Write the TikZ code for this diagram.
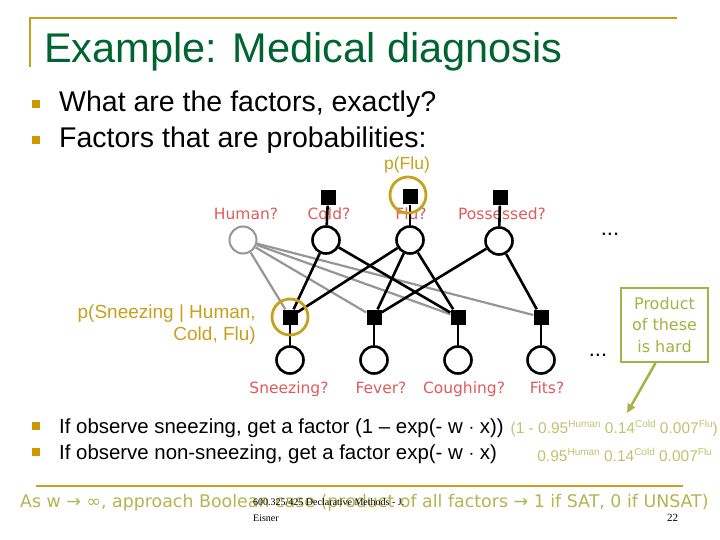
\documentclass[tikz,border=0pt]{standalone}
\usepackage{fontspec}
\setmainfont{Liberation Sans}
\newfontfamily\comic{DejaVu Sans}
\newfontfamily\serifft{Liberation Serif}
\usetikzlibrary{backgrounds,arrows.meta}
\definecolor{gold}{RGB}{200,160,30}
\definecolor{bulletgold}{RGB}{204,153,0}
\definecolor{titlegreen}{RGB}{0,100,50}
\definecolor{labred}{RGB}{224,90,90}
\definecolor{olive}{RGB}{165,178,70}
\definecolor{aswol}{RGB}{180,180,80}
\definecolor{lightol}{RGB}{190,196,110}
\definecolor{greyedge}{RGB}{150,150,150}
\tikzset{
  var/.style={circle,draw=black,line width=2.6pt,fill=white,minimum size=27pt,inner sep=0pt},
  hvar/.style={circle,draw=greyedge,line width=2pt,fill=white,minimum size=27pt,inner sep=0pt},
  fac/.style={rectangle,fill=black,minimum size=15pt,inner sep=0pt},
  edge/.style={line width=2.6pt,black},
  gedge/.style={line width=2.2pt,greyedge},
  hl/.style={circle,draw=gold,line width=2.8pt,minimum size=36pt,inner sep=0pt},
  lab/.style={text=labred,font=\comic\fontsize{15.5}{17}\selectfont,inner sep=0pt,anchor=base},
  bsq/.style={rectangle,fill=bulletgold,minimum size=8pt,inner sep=0pt},
  big/.style={font=\fontsize{28.5}{32}\selectfont,inner sep=0pt,anchor=base west},
  mid/.style={font=\fontsize{20.4}{24}\selectfont,inner sep=0pt,anchor=base west}
}
\newcommand{\spr}[1]{\raisebox{5.5pt}{\fontsize{10}{10}\selectfont #1}}
\begin{document}
\begin{tikzpicture}[x=1pt,y=-1pt]
\useasboundingbox (0,0) rectangle (720,540);
% frame
\draw[gold,line width=2.5pt] (30,67) -- (30,18) -- (677,18);
\node[text=titlegreen,font=\fontsize{41.5}{46}\selectfont,inner sep=0pt,anchor=base west] (title) at (44,63) {Example: Medical diagnosis};
% bullets
\node[bsq] (b1) at (36,104) {};
\node[big] (t1) at (59,112) {What are the factors, exactly?};
\node[bsq] (b2) at (36,140) {};
\node[big] (t2) at (59,148) {Factors that are probabilities:};
\node[text=gold,font=\fontsize{17.5}{19}\selectfont,inner sep=0pt,anchor=base] (pflu) at (407,170) {p(Flu)};
% graph nodes
\node[hvar] (H) at (243,240) {};
\node[var] (C) at (326,240) {};
\node[var] (F) at (410,240) {};
\node[var] (P) at (499,241) {};
\node[fac] (fC) at (328,198) {};
\node[fac] (fF) at (410,197) {};
\node[fac] (fP) at (500,198) {};
\node[fac] (g1) at (290,317) {};
\node[fac] (g2) at (374,317) {};
\node[fac] (g3) at (458,317) {};
\node[fac] (g4) at (541,317) {};
\node[var] (S) at (290,360) {};
\node[var] (V) at (374,360) {};
\node[var] (K) at (458,360) {};
\node[var] (T) at (541,360) {};
\node[hl] (hF) at (408,195) {};
\node[hl] (hS) at (290,317) {};
\begin{pgfonlayer}{background}
\node[lab] (lH) at (246,219) {Human?};
\node[lab] (lC) at (329,219) {Cold?};
\node[lab] (lF) at (411,219) {Flu?};
\node[lab] (lP) at (502,219) {Possessed?};
\node[lab] (lS) at (289,393) {Sneezing?};
\node[lab] (lV) at (381,393) {Fever?};
\node[lab] (lK) at (464,393) {Coughing?};
\node[lab] (lT) at (547,393) {Fits?};
\draw[gedge] (H) -- (g1); \draw[gedge] (H) -- (g2);
\draw[gedge] (H) -- (g3); \draw[gedge] (H) -- (g4);
\draw[edge] (fC) -- (C); \draw[edge] (fF) -- (F); \draw[edge] (fP) -- (P);
\draw[edge] (C) -- (g1); \draw[edge] (C) -- (g3);
\draw[edge] (F) -- (g1); \draw[edge] (F) -- (g2); \draw[edge] (F) -- (g3);
\draw[edge] (P) -- (g2); \draw[edge] (P) -- (g4);
\draw[edge] (g1) -- (S); \draw[edge] (g2) -- (V);
\draw[edge] (g3) -- (K); \draw[edge] (g4) -- (T);
\end{pgfonlayer}
\node[font=\fontsize{22}{22}\selectfont,inner sep=0pt] (d1) at (610,234) {...};
\node[font=\fontsize{22}{22}\selectfont,inner sep=0pt] (d2) at (598,355) {...};
% p(Sneezing...)
\node[text=gold,font=\fontsize{19}{21.5}\selectfont,inner sep=0pt,align=right,anchor=north east] (psn) at (256,305) {p(Sneezing | Human,\\Cold, Flu)};
% callout
\node[draw=olive,line width=2pt,text=olive,font=\comic\fontsize{16}{21.5}\selectfont,align=center,minimum width=87pt,minimum height=74pt,inner sep=2pt] (call) at (664.5,325) {Product\\of these\\is hard};
\coordinate (tip) at (627,413);
\draw[olive,line width=2.5pt,-{Triangle[length=9pt,width=8pt]}] ([xshift=-9pt]call.south) -- (tip);
% lower bullets
\node[bsq] (b3) at (36,426) {};
\node[mid] (t3) at (59,433) {If observe sneezing, get a factor (1 -- exp(- w $\cdot$ x))};
\node[bsq] (b4) at (36,452) {};
\node[mid] (t4) at (59,459) {If observe non-sneezing, get a factor exp(- w $\cdot$ x)};
\node[text=lightol,font=\fontsize{15.5}{17}\selectfont,inner sep=0pt,anchor=base east] (r1) at (718,433) {(1 - 0.95\spr{Human} 0.14\spr{Cold} 0.007\spr{Flu})};
\node[text=lightol,font=\fontsize{15.5}{17}\selectfont,inner sep=0pt,anchor=base east] (r2) at (712,461) {0.95\spr{Human} 0.14\spr{Cold} 0.007\spr{Flu}};
% bottom line
\draw[gold,line width=2.5pt] (36,486) -- (683,486);
\node[text=aswol,font=\comic\fontsize{17.4}{19}\selectfont,inner sep=0pt,anchor=base west] (asw) at (20,507) {As w → ∞, approach Boolean case (product of all factors → 1 if SAT, 0 if UNSAT)};
\node[font=\serifft\fontsize{10}{12}\selectfont,inner sep=0pt,anchor=base west] (ft1) at (253,505) {600.325/425 Declarative Methods - J.};
\node[font=\serifft\fontsize{10}{12}\selectfont,inner sep=0pt,anchor=base west] (ft2) at (253,521) {Eisner};
\node[font=\serifft\fontsize{11}{12}\selectfont,inner sep=0pt,anchor=base west] (pg) at (667,521) {22};
\end{tikzpicture}
\end{document}
